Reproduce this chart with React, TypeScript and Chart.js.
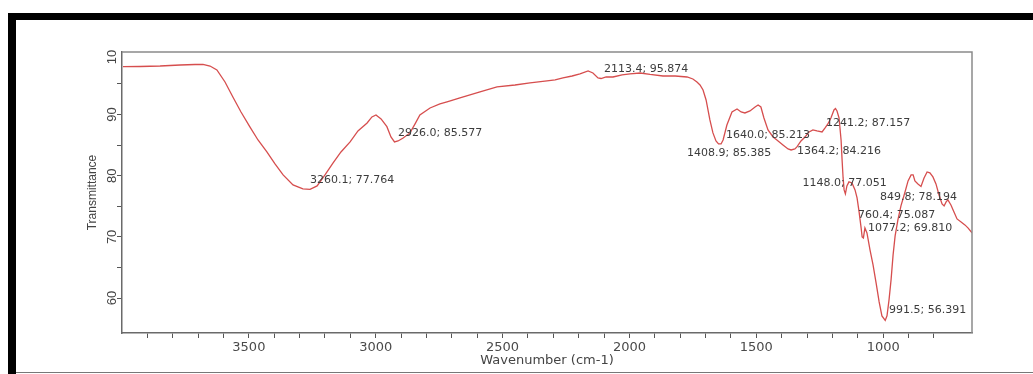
import React, { useEffect, useRef } from "react";
import { Chart, registerables } from "chart.js";

Chart.register(...registerables);

const wavenumbers = [
  3996, 3929, 3850, 3771, 3712, 3681, 3653, 3626, 3594, 3563, 3531, 3496, 3464, 3429, 3397, 3365, 3326, 3287, 3259,
  3231, 3200, 3168, 3137, 3101, 3070, 3034, 3015, 2999, 2979, 2956, 2940, 2926, 2912, 2892, 2865, 2845, 2826, 2786,
  2747, 2719, 2668, 2589, 2522, 2451, 2392, 2325, 2293, 2262, 2226, 2195, 2163, 2144, 2124, 2112, 2092, 2065, 2029,
  1998, 1958, 1919, 1868, 1820, 1773, 1750, 1734, 1722, 1710, 1698, 1683, 1671, 1659, 1649, 1639, 1631, 1616, 1596,
  1576, 1560, 1545, 1525, 1505, 1493, 1482, 1470, 1454, 1434, 1419, 1407, 1395, 1375, 1363, 1348, 1340, 1324, 1308,
  1292, 1277, 1261, 1241, 1229, 1218, 1206, 1194, 1188, 1182, 1174, 1166, 1162, 1158, 1154, 1149, 1143, 1135, 1123,
  1111, 1103, 1095, 1087, 1083, 1078, 1072, 1064, 1052, 1040, 1028, 1016, 1005, 992, 985, 977, 969, 961, 953, 942,
  930, 914, 902, 890, 882, 875, 863, 851, 839, 827, 816, 804, 792, 780, 768, 760, 752, 745, 733, 721, 709, 693, 678,
  666, 650,
];

const transmittance = [
  97.8, 97.83, 97.91, 98.08, 98.16, 98.16, 97.91, 97.26, 95.3, 92.85, 90.4, 87.96, 85.83, 83.87, 81.91, 80.12, 78.49,
  77.83, 77.75, 78.32, 80.12, 82.08, 83.87, 85.51, 87.3, 88.61, 89.59, 89.91, 89.26, 88.0, 86.32, 85.51, 85.67, 86.16,
  86.98, 88.45, 89.91, 91.06, 91.71, 92.04, 92.69, 93.67, 94.49, 94.81, 95.14, 95.47, 95.63, 95.96, 96.28, 96.61,
  97.1, 96.77, 95.96, 95.87, 96.12, 96.12, 96.45, 96.61, 96.77, 96.53, 96.28, 96.28, 96.12, 95.79, 95.3, 94.81, 94.0,
  92.36, 89.1, 86.98, 85.67, 85.18, 85.18, 85.83, 88.28, 90.4, 90.89, 90.4, 90.24, 90.57, 91.22, 91.55, 91.22, 89.42,
  87.47, 86.32, 85.83, 85.42, 85.02, 84.36, 84.2, 84.36, 84.69, 85.67, 86.32, 87.14, 87.47, 87.3, 87.14, 87.79, 88.45,
  89.42, 90.73, 90.98, 90.57, 89.42, 85.83, 82.57, 79.63, 77.67, 77.02, 78.32, 78.98, 78.81, 77.67, 76.36, 74.08,
  71.47, 70.0, 69.83, 71.47, 70.65, 67.87, 65.42, 62.49, 59.38, 57.1, 56.36, 57.1, 59.71, 62.98, 67.06, 70.16, 72.77,
  75.06, 77.34, 79.14, 80.12, 80.12, 79.14, 78.65, 78.24, 79.63, 80.61, 80.45, 79.79, 78.65, 76.85, 75.38, 75.05,
  75.71, 76.04, 75.22, 74.08, 72.93, 72.44, 71.96, 71.47, 70.65,
];

// peak annotations: label text and the data-space point where the label starts
const peakLabels = [
  "3260.1; 77.764",
  "2926.0; 85.577",
  "2113.4; 95.874",
  "1408.9; 85.385",
  "1640.0; 85.213",
  "1364.2; 84.216",
  "1241.2; 87.157",
  "1148.0; 77.051",
  "849.8; 78.194",
  "760.4; 75.087",
  "1077.2; 69.810",
  "991.5; 56.391",
];
const peakLabelX = [3259, 2912, 2100, 1773, 1620, 1340, 1225, 1318, 1013, 1099, 1060, 977];
const peakLabelY = [79.3, 86.98, 97.42, 83.71, 86.65, 84.04, 88.61, 78.81, 76.53, 73.59, 71.47, 58.08];

const xLabelValues = [3500, 3000, 2500, 2000, 1500, 1000];
const yTickValues = [60, 70, 80, 90, 100];
const yTickLabels = ["60", "70", "80", "90", "10"];

const X_MIN = 650;
const X_MAX = 4000;
const Y_MIN = 54.3;
const Y_MAX = 100.2;

const decorPlugin = {
  id: "decor",
  beforeDraw(chart: any) {
    const { ctx, width, height } = chart;
    ctx.save();
    ctx.fillStyle = "#ffffff";
    ctx.fillRect(0, 0, width, height);
    ctx.fillStyle = "#000000";
    ctx.fillRect(8, 13, 8, height - 13);
    ctx.fillRect(8, 13, width - 8, 7);
    ctx.strokeStyle = "#777777";
    ctx.lineWidth = 1.2;
    ctx.beginPath();
    ctx.moveTo(16, 372.5);
    ctx.lineTo(width, 372.5);
    ctx.stroke();
    ctx.restore();
  },
  afterDraw(chart: any) {
    const { ctx, chartArea } = chart;
    const xs = chart.scales.x;
    const ys = chart.scales.y;
    ctx.save();
    // top and right frame of the plot box
    ctx.strokeStyle = "#8a8a8a";
    ctx.lineWidth = 1.5;
    ctx.beginPath();
    ctx.moveTo(chartArea.left, chartArea.top);
    ctx.lineTo(chartArea.right, chartArea.top);
    ctx.lineTo(chartArea.right, chartArea.bottom);
    ctx.stroke();

    // rotated y tick labels
    ctx.fillStyle = "#444444";
    ctx.font = "13px 'Liberation Sans', Arial, sans-serif";
    ctx.textBaseline = "middle";
    yTickValues.forEach((v, i) => {
      const py = ys.getPixelForValue(v);
      ctx.save();
      ctx.translate(112, py);
      ctx.rotate(-Math.PI / 2);
      if (i === yTickValues.length - 1) {
        ctx.textAlign = "left";
        ctx.fillText(yTickLabels[i], -11, 0);
      } else {
        ctx.textAlign = "center";
        ctx.fillText(yTickLabels[i], 0, 0);
      }
      ctx.restore();
    });

    // peak annotations
    ctx.fillStyle = "#3c3c3c";
    ctx.font = "11px 'DejaVu Sans', sans-serif";
    ctx.textAlign = "left";
    ctx.textBaseline = "middle";
    peakLabels.forEach((t, i) => {
      ctx.fillText(t, xs.getPixelForValue(peakLabelX[i]), ys.getPixelForValue(peakLabelY[i]));
    });
    ctx.restore();
  },
};

export default function App() {
  const canvasRef = useRef<HTMLCanvasElement | null>(null);

  useEffect(() => {
    if (!canvasRef.current) return;
    Chart.defaults.font.family = "'DejaVu Sans', sans-serif";
    const points = wavenumbers.map((w, i) => ({ x: w, y: transmittance[i] }));
    const chart = new Chart(canvasRef.current, {
      type: "line",
      data: {
        datasets: [
          {
            data: points,
            borderColor: "rgb(214, 78, 78)",
            borderWidth: 1.3,
            pointRadius: 0,
            tension: 0,
            fill: false,
          },
        ],
      },
      options: {
        responsive: false,
        animation: false,
        layout: { padding: { top: 52, right: 61, bottom: 0, left: 0 } },
        plugins: { legend: { display: false }, tooltip: { enabled: false } },
        scales: {
          x: {
            type: "linear",
            position: "bottom",
            reverse: true,
            min: X_MIN,
            max: X_MAX,
            afterBuildTicks: (scale: any) => {
              scale.ticks = scale.ticks.filter(
                (t: any) => t.value % 100 === 0 && t.value >= 700 && t.value <= 3900
              );
            },
            afterFit: (scale: any) => {
              scale.height = 41;
            },
            ticks: {
              stepSize: 100,
              autoSkip: false,
              maxRotation: 0,
              minRotation: 0,
              padding: 2,
              color: "#4a4a4a",
              font: { size: 13 },
              callback: (v: any) => (xLabelValues.includes(Number(v)) ? String(v) : ""),
            },
            grid: {
              drawOnChartArea: false,
              drawTicks: true,
              tickLength: 5,
              color: "#555555",
              lineWidth: 1,
            },
            border: { display: true, color: "#6a6a6a", width: 1.5 },
            title: {
              display: true,
              text: "Wavenumber (cm-1)",
              color: "#444444",
              font: { size: 13 },
              padding: { top: 0, bottom: 6 },
            },
          },
          y: {
            type: "linear",
            position: "left",
            min: Y_MIN,
            max: Y_MAX,
            afterBuildTicks: (scale: any) => {
              scale.ticks = scale.ticks.filter(
                (t: any) => Math.abs(t.value - Math.round(t.value / 5) * 5) < 1e-6
              );
            },
            afterFit: (scale: any) => {
              scale.width = 122;
            },
            ticks: { display: false, stepSize: 5 },
            grid: {
              drawOnChartArea: false,
              drawTicks: true,
              tickLength: 5,
              color: "#555555",
              lineWidth: 1,
            },
            border: { display: true, color: "#6a6a6a", width: 1.5 },
            title: {
              display: true,
              text: "Transmittance",
              color: "#444444",
              font: { size: 12, family: "'Liberation Sans', Arial, sans-serif" },
              padding: { top: 85, bottom: 0 },
            },
          },
        },
      },
      plugins: [decorPlugin],
    });
    return () => chart.destroy();
  }, []);

  return (
    <div style={{ position: "absolute", left: 0, top: 0, width: 1033, height: 374 }}>
      <canvas ref={canvasRef} width={1033} height={374} style={{ display: "block" }} />
    </div>
  );
}
